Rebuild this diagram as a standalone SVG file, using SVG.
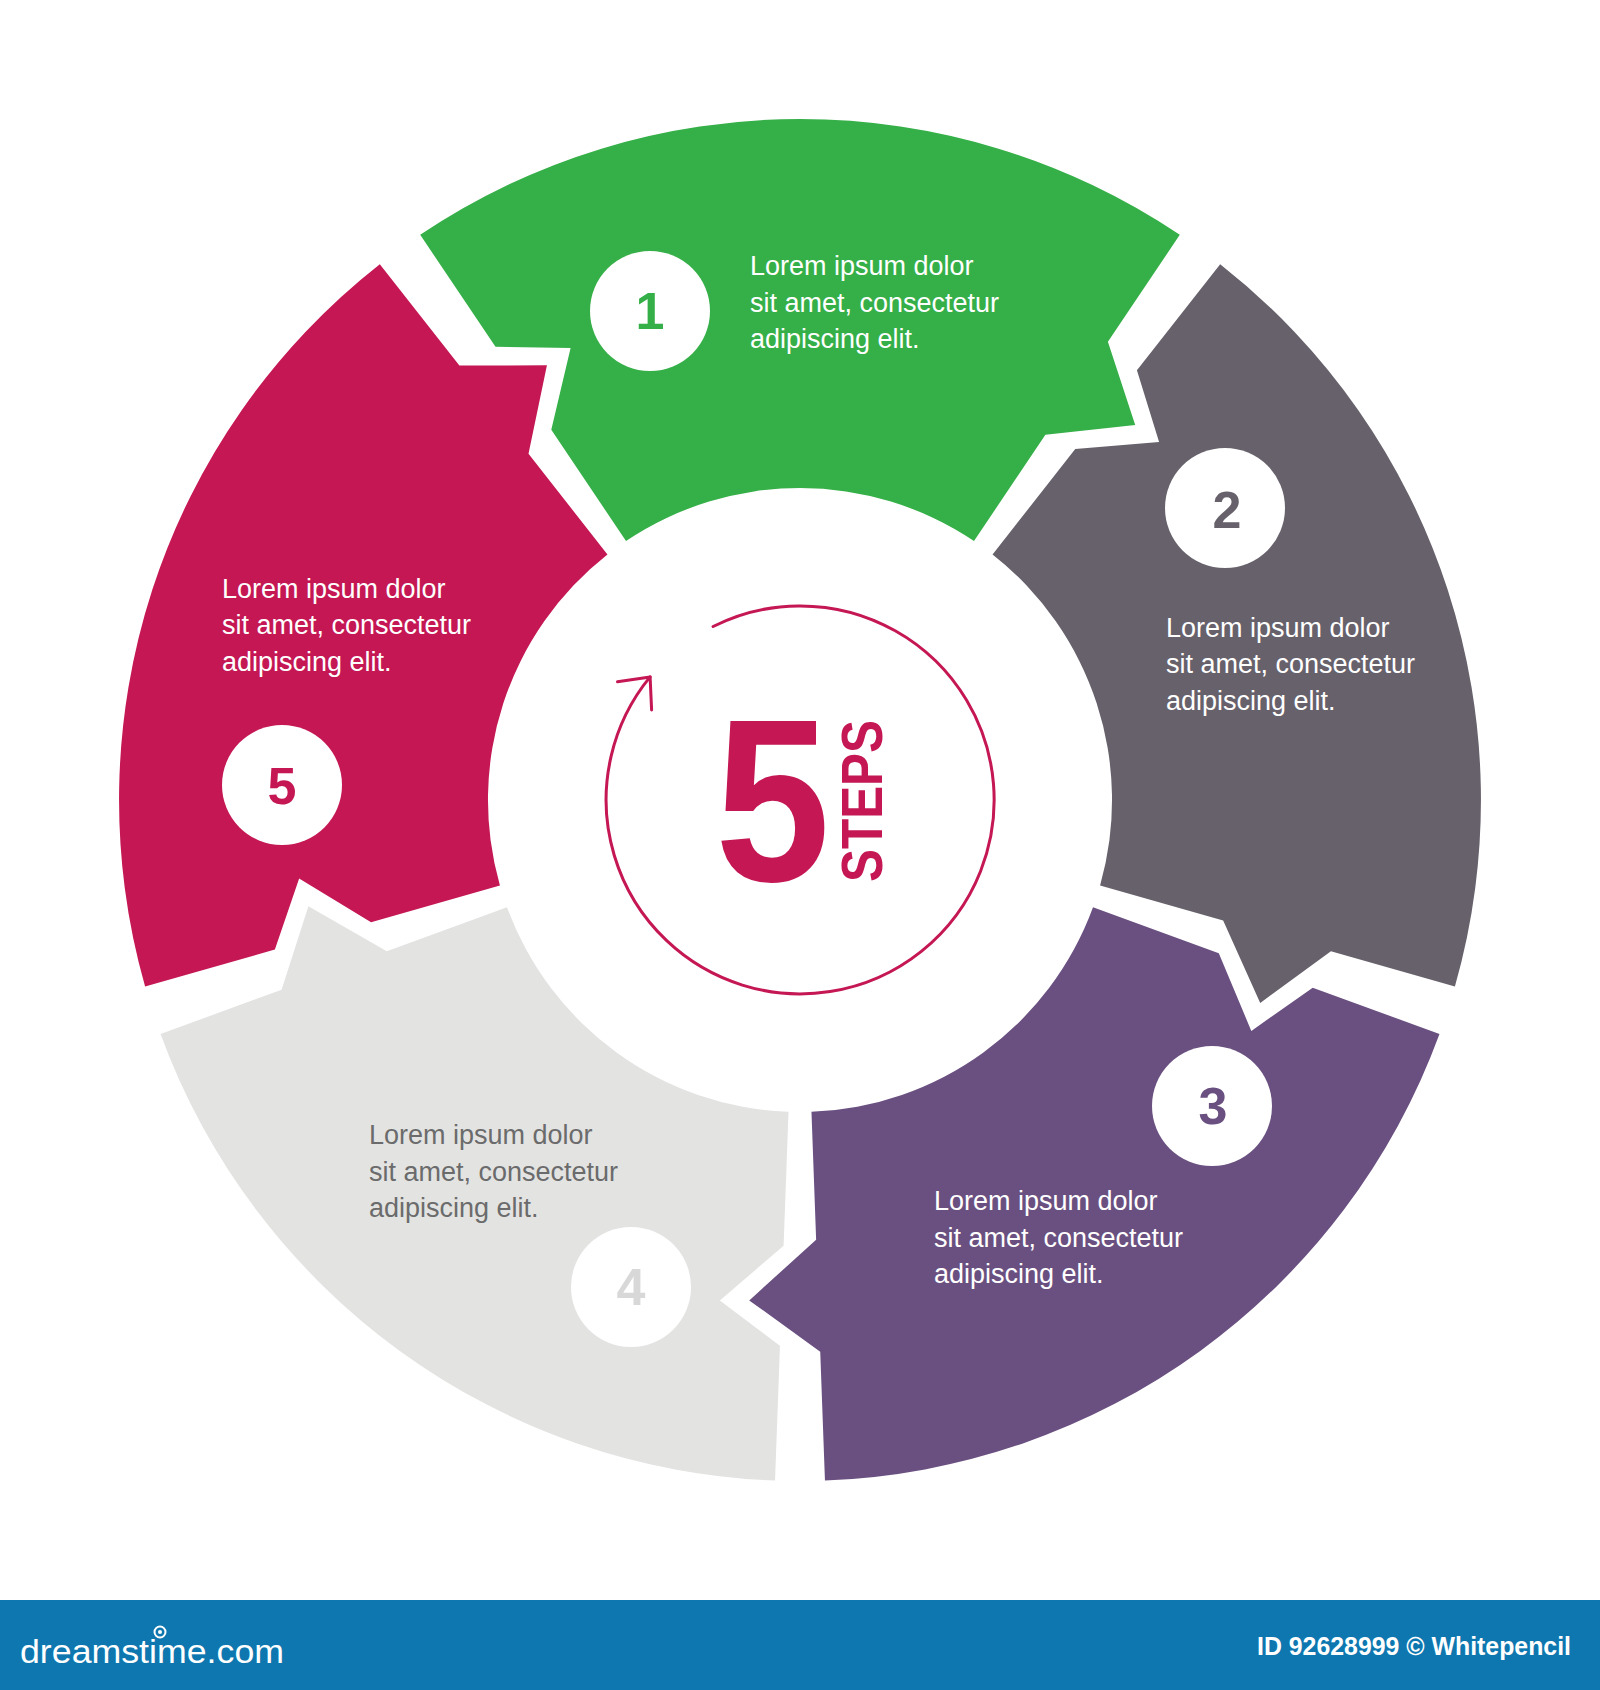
<svg xmlns="http://www.w3.org/2000/svg" width="1600" height="1690" viewBox="0 0 1600 1690">
<style>
.txt{font-family:"Liberation Sans",Arial,sans-serif;font-size:27px;fill:#ffffff}
.txt.dark{fill:#6b6b6c}
.num{font-family:"Liberation Sans",Arial,sans-serif;font-size:52px;font-weight:bold;text-anchor:middle}
.badge{fill:#ffffff}
</style>
<defs>
<path id="seg" d="M420.2,234.8 A681,681 0 0 1 1179.8,234.8 L1107.9,341.8 L1135.2,425.0 L1045.4,434.8 L974.0,541.0 A312,312 0 0 0 626.0,541.0 L551.3,429.8 L570.6,347.9 L495.5,346.8 Z"/>
</defs>
<rect width="1600" height="1690" fill="#ffffff"/>

<g id="step1">
<use href="#seg" fill="#35af47"/>
<circle class="badge" cx="650" cy="311" r="60"/>
<text class="num" x="650" y="329" fill="#35af47">1</text>
<text class="txt"><tspan x="750" y="275">Lorem ipsum dolor</tspan><tspan x="750" y="312">sit amet, consectetur</tspan><tspan x="750" y="348">adipiscing elit.</tspan></text>
</g>

<g id="step2">
<use href="#seg" transform="rotate(72 800 800)" fill="#67616b"/>
<circle class="badge" cx="1225" cy="508" r="60"/>
<text class="num" x="1227" y="528" fill="#67616b">2</text>
<text class="txt"><tspan x="1166" y="637">Lorem ipsum dolor</tspan><tspan x="1166" y="673">sit amet, consectetur</tspan><tspan x="1166" y="710">adipiscing elit.</tspan></text>
</g>

<g id="step3">
<use href="#seg" transform="rotate(144 800 800)" fill="#6a5080"/>
<circle class="badge" cx="1212" cy="1106" r="60"/>
<text class="num" x="1213" y="1124" fill="#6a5080">3</text>
<text class="txt"><tspan x="934" y="1210">Lorem ipsum dolor</tspan><tspan x="934" y="1247">sit amet, consectetur</tspan><tspan x="934" y="1283">adipiscing elit.</tspan></text>
</g>

<g id="step4">
<use href="#seg" transform="rotate(216 800 800)" fill="#e3e4e2"/>
<circle class="badge" cx="631" cy="1287" r="60"/>
<text class="num" x="631" y="1305" fill="#d8d8d8">4</text>
<text class="txt dark"><tspan x="369" y="1144">Lorem ipsum dolor</tspan><tspan x="369" y="1181">sit amet, consectetur</tspan><tspan x="369" y="1217">adipiscing elit.</tspan></text>
</g>

<g id="step5">
<use href="#seg" transform="rotate(288 800 800)" fill="#c41753"/>
<circle class="badge" cx="282" cy="785" r="60"/>
<text class="num" x="282" y="804" fill="#c41753">5</text>
<text class="txt"><tspan x="222" y="598">Lorem ipsum dolor</tspan><tspan x="222" y="634">sit amet, consectetur</tspan><tspan x="222" y="671">adipiscing elit.</tspan></text>
</g>

<g id="center">
<text x="715" y="881" font-family="Liberation Sans, Arial, sans-serif" font-weight="bold" font-size="232" fill="#c41753" textLength="115" lengthAdjust="spacingAndGlyphs">5</text>
<text transform="translate(882 882) rotate(-90)" x="0" y="0" font-family="Liberation Sans, Arial, sans-serif" font-weight="bold" font-size="57" fill="#c41753" textLength="162" lengthAdjust="spacingAndGlyphs">STEPS</text>
</g>

<g id="connectors" fill="none" stroke="#c41753" stroke-width="3" stroke-linecap="round">
<path d="M713.1,626.5 A194,194 0 1 1 650.1,676.9"/>
<path d="M617.5,681.8 L650.1,676.9 L651.6,709.9" stroke-linejoin="round"/>
</g>

<g id="footer">
<rect x="0" y="1600" width="1600" height="90" fill="#0e77b0"/>
<text x="20" y="1663" font-family="Liberation Sans, Arial, sans-serif" font-size="33" fill="#ffffff" textLength="264" lengthAdjust="spacingAndGlyphs">dreamstime.com</text>
<circle cx="160" cy="1632" r="5.5" fill="none" stroke="#ffffff" stroke-width="2"/>
<circle cx="160" cy="1632" r="2" fill="#ffffff"/>
<text x="1257" y="1655" font-family="Liberation Sans, Arial, sans-serif" font-weight="bold" font-size="25" fill="#ffffff" textLength="314" lengthAdjust="spacingAndGlyphs">ID 92628999 © Whitepencil</text>
</g>
</svg>
